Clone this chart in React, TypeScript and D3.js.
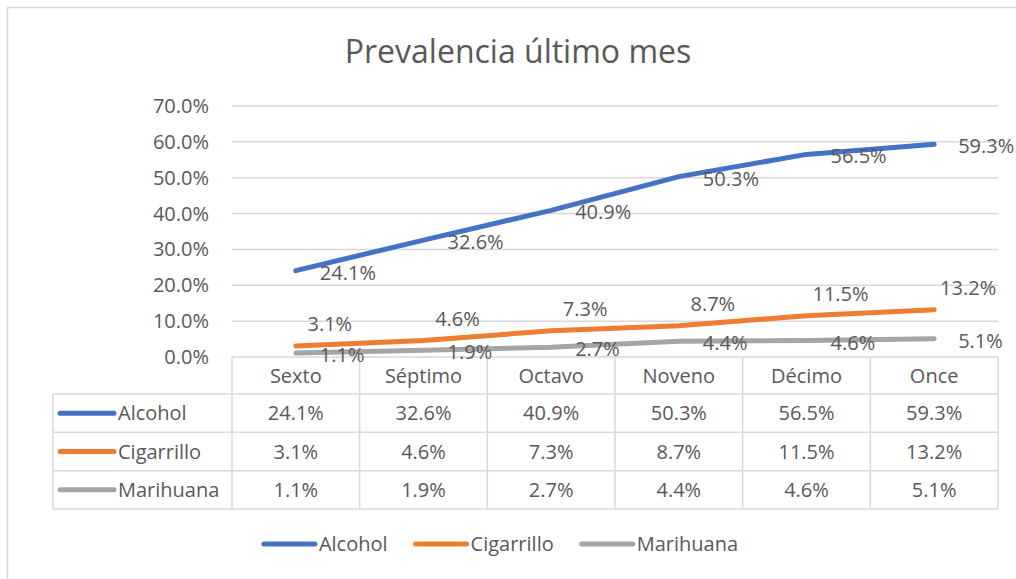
import { useRef, useEffect } from 'react';
import * as d3 from 'd3';

// datos del gráfico
const categories = ['Sexto', 'Séptimo', 'Octavo', 'Noveno', 'Décimo', 'Once'];
const seriesNames = ['Alcohol', 'Cigarrillo', 'Marihuana'];
const alcohol = [24.1, 32.6, 40.9, 50.3, 56.5, 59.3];
const cigarrillo = [3.1, 4.6, 7.3, 8.7, 11.5, 13.2];
const marihuana = [1.1, 1.9, 2.7, 4.4, 4.6, 5.1];
const yTicks = [0, 10, 20, 30, 40, 50, 60, 70];
const title = 'Prevalencia último mes';

const colors = ['#4472C4', '#ED7D31', '#A5A5A5'];
const textColor = '#595959';
const gridColor = '#D9D9D9';
const font = "'Open Sans', sans-serif";

export default function App() {
  const svgRef = useRef<SVGSVGElement | null>(null);
  const width = 1016;
  const height = 579;

  useEffect(() => {
    const svg = d3.select(svgRef.current);
    svg.selectAll('*').remove();

    const values = [alcohol, cigarrillo, marihuana];

    // borde del área del gráfico (solo se ven arriba e izquierda)
    svg.append('rect')
      .attr('x', 7.5).attr('y', 7.5)
      .attr('width', width + 20).attr('height', height + 20)
      .attr('fill', '#fff')
      .attr('stroke', gridColor)
      .attr('stroke-width', 1.5);

    // título
    svg.append('text')
      .attr('x', 518).attr('y', 63)
      .attr('text-anchor', 'middle')
      .style('font-family', font)
      .style('font-size', '32px')
      .attr('fill', textColor)
      .text(title);

    const plot = { left: 232, right: 998, top: 106, bottom: 357 };

    const x = d3.scaleBand<string>()
      .domain(categories)
      .range([plot.left, plot.right]);
    const y = d3.scaleLinear()
      .domain([0, 70])
      .range([plot.bottom, plot.top]);

    // líneas de cuadrícula
    svg.append('g')
      .selectAll('line')
      .data(yTicks.filter(t => t > 0))
      .join('line')
      .attr('x1', plot.left).attr('x2', plot.right)
      .attr('y1', d => y(d)).attr('y2', d => y(d))
      .attr('stroke', gridColor)
      .attr('stroke-width', 1.5);

    // etiquetas del eje Y
    svg.append('g')
      .selectAll('text')
      .data(yTicks)
      .join('text')
      .attr('x', 209)
      .attr('y', d => y(d))
      .attr('dy', '0.35em')
      .attr('text-anchor', 'end')
      .style('font-family', font)
      .style('font-size', '20px')
      .attr('fill', textColor)
      .text(d => d.toFixed(1) + '%');

    // tabla de datos
    const tableLeft = 53;
    const headerTop = plot.bottom;
    const headerBottom = 394;
    const tableBottom = 509;
    const rowY = d3.scaleBand<string>()
      .domain(seriesNames)
      .range([headerBottom, tableBottom]);

    const table = svg.append('g')
      .attr('stroke', gridColor)
      .attr('stroke-width', 1.5)
      .attr('fill', 'none');
    // líneas horizontales
    table.append('line')
      .attr('x1', plot.left).attr('x2', plot.right)
      .attr('y1', headerTop).attr('y2', headerTop);
    seriesNames.forEach(s => {
      table.append('line')
        .attr('x1', tableLeft).attr('x2', plot.right)
        .attr('y1', rowY(s)!).attr('y2', rowY(s)!);
    });
    table.append('line')
      .attr('x1', tableLeft).attr('x2', plot.right)
      .attr('y1', tableBottom).attr('y2', tableBottom);
    // líneas verticales
    table.append('line')
      .attr('x1', tableLeft).attr('x2', tableLeft)
      .attr('y1', headerBottom).attr('y2', tableBottom);
    categories.forEach(c => {
      table.append('line')
        .attr('x1', x(c)!).attr('x2', x(c)!)
        .attr('y1', headerTop).attr('y2', tableBottom);
    });
    table.append('line')
      .attr('x1', plot.right).attr('x2', plot.right)
      .attr('y1', headerTop).attr('y2', tableBottom);

    const cellText = (g: d3.Selection<SVGGElement, unknown, null, undefined>) =>
      g.style('font-family', font).style('font-size', '20px').attr('fill', textColor);

    // encabezados de categoría
    svg.append('g').call(cellText)
      .selectAll('text')
      .data(categories)
      .join('text')
      .attr('x', d => x(d)! + x.bandwidth() / 2)
      .attr('y', (headerTop + headerBottom) / 2)
      .attr('dy', '0.35em')
      .attr('text-anchor', 'middle')
      .text(d => d);

    // filas con clave de leyenda y valores
    seriesNames.forEach((s, i) => {
      const cy = rowY(s)! + rowY.bandwidth() / 2;
      svg.append('line')
        .attr('x1', 60).attr('x2', 114)
        .attr('y1', cy).attr('y2', cy)
        .attr('stroke', colors[i])
        .attr('stroke-width', 5)
        .attr('stroke-linecap', 'round');
      svg.append('text').call(cellText as any)
        .attr('x', 118).attr('y', cy).attr('dy', '0.35em')
        .text(s);
      svg.append('g').call(cellText)
        .selectAll('text')
        .data(values[i])
        .join('text')
        .attr('x', (d, j) => x(categories[j])! + x.bandwidth() / 2)
        .attr('y', cy)
        .attr('dy', '0.35em')
        .attr('text-anchor', 'middle')
        .text(d => d.toFixed(1) + '%');
    });

    // líneas de las series
    const line = d3.line<number>()
      .x((d, j) => x(categories[j])! + x.bandwidth() / 2)
      .y(d => y(d));
    values.forEach((v, i) => {
      svg.append('path')
        .datum(v)
        .attr('d', line)
        .attr('fill', 'none')
        .attr('stroke', colors[i])
        .attr('stroke-width', 5)
        .attr('stroke-linecap', 'round')
        .attr('stroke-linejoin', 'round');
    });

    // etiquetas de datos: Alcohol y Marihuana a la derecha, Cigarrillo arriba
    values.forEach((v, i) => {
      const above = i === 1;
      svg.append('g').call(cellText)
        .selectAll('text')
        .data(v)
        .join('text')
        .attr('x', (d, j) => x(categories[j])! + x.bandwidth() / 2 + (above ? 34 : 24))
        .attr('y', d => y(d) + (above ? -22 : 2))
        .attr('dy', '0.35em')
        .attr('text-anchor', above ? 'middle' : 'start')
        .text(d => d.toFixed(1) + '%');
    });

    // leyenda inferior
    const legend = svg.append('g');
    let lx = 0;
    seriesNames.forEach((s, i) => {
      legend.append('line')
        .attr('x1', lx).attr('x2', lx + 51)
        .attr('y1', 0).attr('y2', 0)
        .attr('stroke', colors[i])
        .attr('stroke-width', 5)
        .attr('stroke-linecap', 'round');
      const t = legend.append('text').call(cellText as any)
        .attr('x', lx + 55).attr('y', 0).attr('dy', '0.35em')
        .text(s);
      const w = (t.node() as SVGTextElement).getComputedTextLength();
      lx += 55 + w + (i < seriesNames.length - 1 ? 28 : 0);
    });
    legend.attr('transform', `translate(${501 - lx / 2},544)`);
  }, []);

  return (
    <svg
      ref={svgRef}
      width={width}
      height={height}
      style={{ position: 'absolute', left: 0, top: 0, background: '#fff' }}
    />
  );
}
